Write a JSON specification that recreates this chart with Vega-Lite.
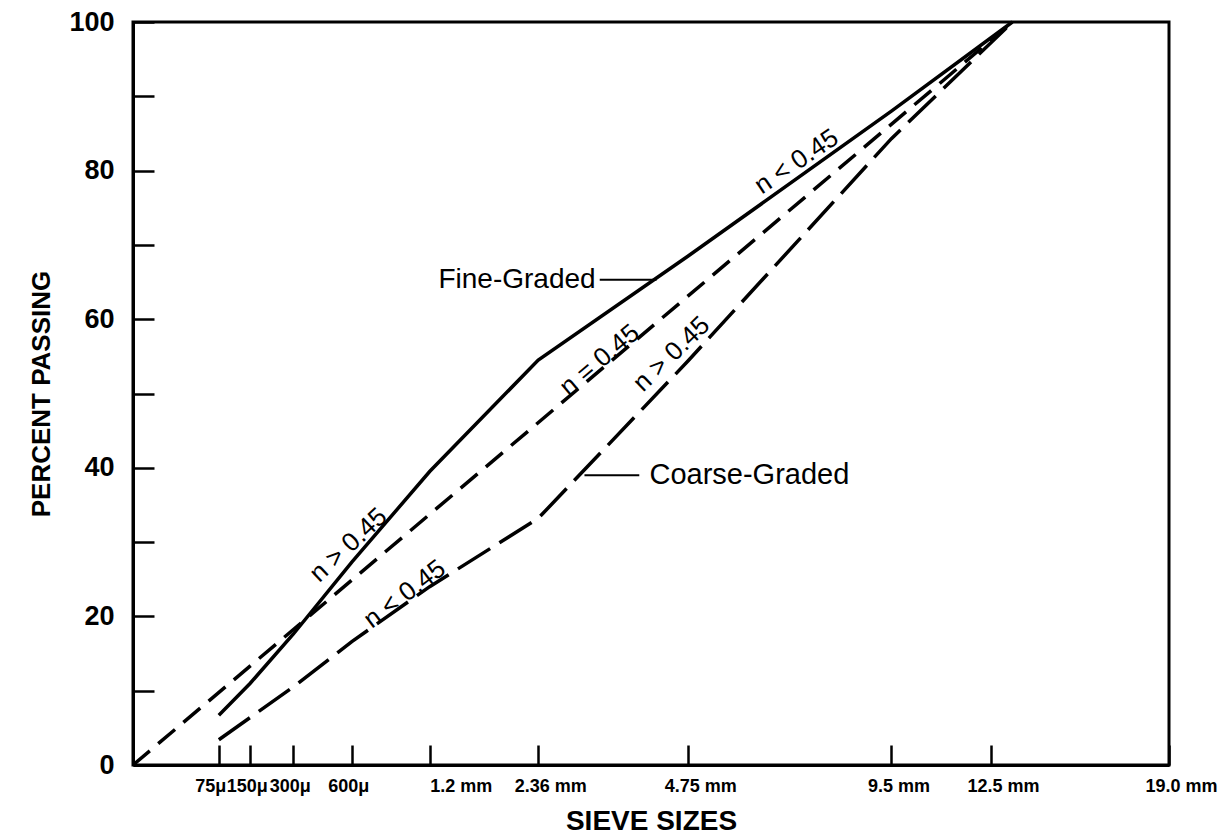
{
  "$schema": "https://vega.github.io/schema/vega-lite/v6.json",
  "width": 1036,
  "height": 743,
  "autosize": {"type": "none"},
  "padding": {"left": 133, "top": 22, "right": 53, "bottom": 74},
  "background": "white",
  "config": {
    "view": {"stroke": "black", "strokeWidth": 3},
    "font": "Liberation Sans",
    "text": {"font": "Liberation Sans", "color": "black"}
  },
  "datasets": {
    "curves": [
      {"curve": "Fine-Graded", "size": 0.075, "pct": 6.7},
      {"curve": "Fine-Graded", "size": 0.15, "pct": 11},
      {"curve": "Fine-Graded", "size": 0.3, "pct": 17.6},
      {"curve": "Fine-Graded", "size": 0.6, "pct": 27.3},
      {"curve": "Fine-Graded", "size": 1.18, "pct": 39.5},
      {"curve": "Fine-Graded", "size": 2.36, "pct": 54.5},
      {"curve": "Fine-Graded", "size": 4.75, "pct": 68.5},
      {"curve": "Fine-Graded", "size": 9.5, "pct": 88},
      {"curve": "Fine-Graded", "size": 13.2, "pct": 100},
      {"curve": "Maximum density", "size": 0, "pct": 0},
      {"curve": "Maximum density", "size": 13.2, "pct": 100},
      {"curve": "Coarse-Graded", "size": 0.075, "pct": 3.4},
      {"curve": "Coarse-Graded", "size": 0.15, "pct": 6.4},
      {"curve": "Coarse-Graded", "size": 0.3, "pct": 10.5},
      {"curve": "Coarse-Graded", "size": 0.6, "pct": 16.6},
      {"curve": "Coarse-Graded", "size": 1.18, "pct": 24},
      {"curve": "Coarse-Graded", "size": 2.36, "pct": 33.2},
      {"curve": "Coarse-Graded", "size": 4.75, "pct": 54.4},
      {"curve": "Coarse-Graded", "size": 9.5, "pct": 84.3},
      {"curve": "Coarse-Graded", "size": 13.2, "pct": 100}
    ],
    "leaders": [
      {"leader": "fine", "size": 3.23, "pct": 65.3},
      {"leader": "fine", "size": 4.17, "pct": 65.3},
      {"leader": "coarse", "size": 3.0, "pct": 39.0},
      {"leader": "coarse", "size": 3.87, "pct": 39.0}
    ],
    "notes": [
      {"id": "n1", "text": "n < 0.45", "size": 7.06, "pct": 81.2},
      {"id": "n2", "text": "n > 0.45", "size": 0.58, "pct": 29.6},
      {"id": "n3", "text": "n = 0.45", "size": 3.23, "pct": 54.5},
      {"id": "n4", "text": "n > 0.45", "size": 4.44, "pct": 55.3},
      {"id": "n5", "text": "n < 0.45", "size": 0.971, "pct": 23.0},
      {"id": "fine", "text": "Fine-Graded", "size": 3.198, "pct": 65.3},
      {"id": "coarse", "text": "Coarse-Graded", "size": 4.01, "pct": 39.0}
    ]
  },
  "encoding": {
    "x": {
      "field": "size",
      "type": "quantitative",
      "scale": {"type": "pow", "exponent": 0.45, "domain": [0, 19], "nice": false, "zero": true},
      "axis": {
        "values": [0.075, 0.15, 0.3, 0.6, 1.18, 2.36, 4.75, 9.5, 12.5, 19],
        "labelExpr": "datum.value == 0.075 ? '75μ' : datum.value == 0.15 ? '150μ' : datum.value == 0.3 ? '300μ' : datum.value == 0.6 ? '600μ' : datum.value == 1.18 ? '1.2 mm' : datum.value == 2.36 ? '2.36 mm' : datum.value == 4.75 ? '4.75 mm' : datum.value == 9.5 ? '9.5 mm' : datum.value == 12.5 ? '12.5 mm' : '19.0 mm'",
        "grid": false,
        "tickSize": -20,
        "tickWidth": 2.5,
        "tickColor": "black",
        "domainColor": "black",
        "domainWidth": 3,
        "labelFont": "Liberation Sans",
        "labelFontWeight": "bold",
        "labelFontSize": 18,
        "labelColor": "black",
        "labelAlign": "left",
        "labelBaseline": "top",
        "labelPadding": 32,
        "labelOffset": {"condition": {"test": "datum.value == 1.18", "value": 0}, "value": -24},
        "labelOverlap": false,
        "labelBound": false,
        "labelFlush": false,
        "title": "SIEVE SIZES",
        "titleFont": "Liberation Sans",
        "titleFontSize": 28,
        "titleFontWeight": "bold",
        "titleColor": "black",
        "titleBaseline": "alphabetic",
        "titleY": 64
      }
    },
    "y": {
      "field": "pct",
      "type": "quantitative",
      "scale": {"domain": [0, 100], "nice": false},
      "axis": {
        "values": [0, 10, 20, 30, 40, 50, 60, 70, 80, 90, 100],
        "labelExpr": "datum.value % 20 == 0 ? datum.label : ''",
        "grid": false,
        "tickSize": -21,
        "tickWidth": 2.5,
        "tickColor": "black",
        "domainColor": "black",
        "domainWidth": 3,
        "labelFont": "Liberation Sans",
        "labelFontWeight": "bold",
        "labelFontSize": 27,
        "labelColor": "black",
        "labelPadding": 40,
        "labelOverlap": false,
        "labelBound": false,
        "labelFlush": false,
        "title": "PERCENT PASSING",
        "titleFont": "Liberation Sans",
        "titleFontSize": 26,
        "titleFontWeight": "bold",
        "titleColor": "black",
        "titleAngle": -90,
        "titleBaseline": "middle",
        "titleAlign": "center",
        "titleX": -92
      }
    }
  },
  "layer": [
    {
      "data": {"name": "curves"},
      "transform": [{"filter": "datum.curve == 'Fine-Graded'"}],
      "mark": {"type": "line", "color": "black", "strokeWidth": 3.5}
    },
    {
      "data": {"name": "curves"},
      "transform": [{"filter": "datum.curve == 'Maximum density'"}],
      "mark": {"type": "line", "color": "black", "strokeWidth": 3.5, "strokeDash": [22, 11]}
    },
    {
      "data": {"name": "curves"},
      "transform": [{"filter": "datum.curve == 'Coarse-Graded'"}],
      "mark": {"type": "line", "color": "black", "strokeWidth": 3.5, "strokeDash": [38, 11]}
    },
    {
      "data": {"name": "leaders"},
      "mark": {"type": "line", "color": "black", "strokeWidth": 2},
      "encoding": {"detail": {"field": "leader"}}
    },
    {
      "data": {"name": "notes"},
      "transform": [{"filter": "datum.id == 'n1'"}],
      "mark": {"type": "text", "fontSize": 26, "angle": -34, "align": "center", "baseline": "middle"},
      "encoding": {"text": {"field": "text"}}
    },
    {
      "data": {"name": "notes"},
      "transform": [{"filter": "datum.id == 'n2'"}],
      "mark": {"type": "text", "fontSize": 26, "angle": -43, "align": "center", "baseline": "middle"},
      "encoding": {"text": {"field": "text"}}
    },
    {
      "data": {"name": "notes"},
      "transform": [{"filter": "datum.id == 'n3'"}],
      "mark": {"type": "text", "fontSize": 26, "angle": -40, "align": "center", "baseline": "middle"},
      "encoding": {"text": {"field": "text"}}
    },
    {
      "data": {"name": "notes"},
      "transform": [{"filter": "datum.id == 'n4'"}],
      "mark": {"type": "text", "fontSize": 26, "angle": -44, "align": "center", "baseline": "middle"},
      "encoding": {"text": {"field": "text"}}
    },
    {
      "data": {"name": "notes"},
      "transform": [{"filter": "datum.id == 'n5'"}],
      "mark": {"type": "text", "fontSize": 26, "angle": -37, "align": "center", "baseline": "middle"},
      "encoding": {"text": {"field": "text"}}
    },
    {
      "data": {"name": "notes"},
      "transform": [{"filter": "datum.id == 'fine'"}],
      "mark": {"type": "text", "fontSize": 28, "align": "right", "baseline": "middle", "dx": -2},
      "encoding": {"text": {"field": "text"}}
    },
    {
      "data": {"name": "notes"},
      "transform": [{"filter": "datum.id == 'coarse'"}],
      "mark": {"type": "text", "fontSize": 29, "align": "left", "baseline": "middle", "dx": 2},
      "encoding": {"text": {"field": "text"}}
    }
  ]
}
